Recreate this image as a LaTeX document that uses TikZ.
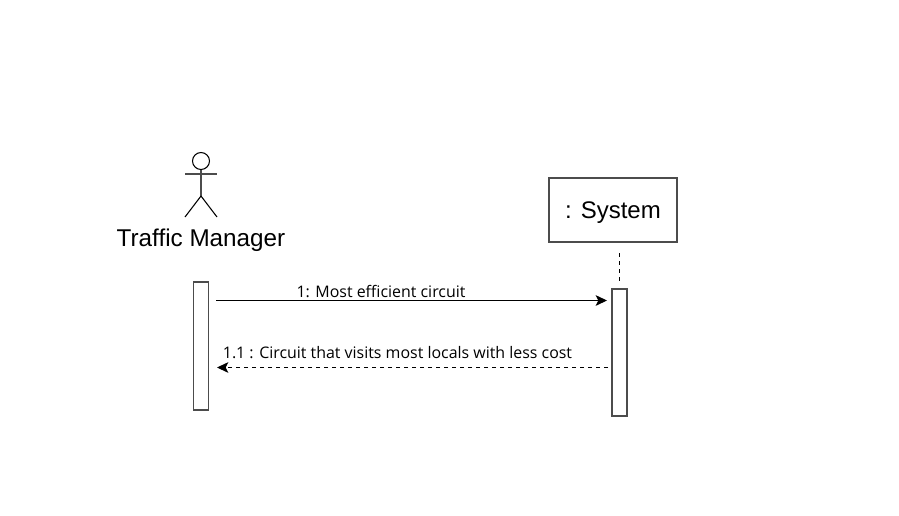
\documentclass[tikz,border=0pt]{standalone}
\usepackage{fontspec}
\setmainfont{Liberation Sans}
\newfontfamily\msgfont{Open Sans}
\usetikzlibrary{arrows.meta}

\begin{document}
\begin{tikzpicture}[x=0.75pt, y=-0.75pt, line width=0.8pt,
        life/.style = {draw=black!70, minimum width=11.25pt, inner sep=0pt},
        object/.style = {draw=black!70, minimum width=96pt, minimum height=48pt, text height=14pt, text depth=0.6pt, font=\fontsize{18}{21}\selectfont},
        actorname/.style = {font=\fontsize{18.2}{21}\selectfont},
        msg/.style = {font=\msgfont\fontsize{11.95}{14}\selectfont},
        tip/.style = {-{Stealth[length=8.5pt, width=8pt, inset=2pt]}}]
        \useasboundingbox (0,0) rectangle (899,515);

        \node[object] (system) at (613,210) {: System};
        \node[actorname] (manager) at (201,240.5) {Traffic Manager};
        \node[life, minimum height=96pt] (lifeA) at (201,346) {};
        \node[life, minimum height=95.25pt] (lifeB) at (619.5,352.5) {};

        \node[msg] (call) at (381,292) {1: Most efficient circuit};
        \node[msg] (reply) at (397.5,353) {1.1 : Circuit that visits most locals with less cost};

        % actor
        \node[draw, circle, minimum size=12.75pt, inner sep=0pt] (head) at (201,161) {};
        \coordinate (armL) at (185,174);
        \coordinate (armR) at (217,174);
        \coordinate (hip) at (201,196);
        \coordinate (footL) at (185,217);
        \coordinate (footR) at (217,217);
        \draw[black!70] (head) -- (hip);
        \draw[black!70] (armL) -- (armR);
        \draw (footL) -- (hip);
        \draw (hip) -- (footR);

        % messages
        \coordinate (callS) at (216,300.5);
        \coordinate (callE) at (607,300.5);
        \coordinate (replyS) at (608,367.5);
        \coordinate (replyE) at (217,367.5);
        \coordinate (dashS) at (619.5,253);
        \draw[tip] (callS) -- (callE);
        \draw[tip, dashed, dash pattern=on 3pt off 3pt] (replyS) -- (replyE);
        \draw[dashed, dash pattern=on 3pt off 3pt] (dashS) -- ([yshift=5pt]lifeB.north);
\end{tikzpicture}
\end{document}
